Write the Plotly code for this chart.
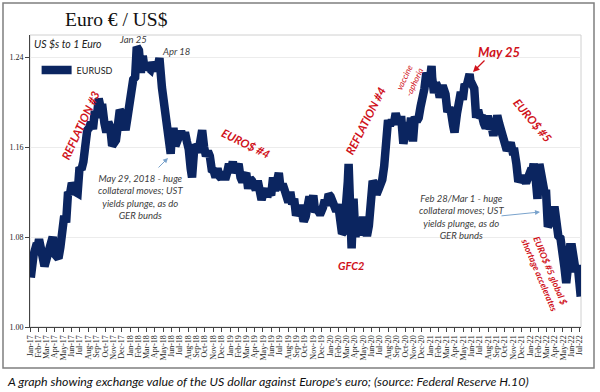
import plotly.graph_objects as go
import pandas as pd

# ---- data (EURUSD, US$ per 1 Euro) ----
d2017 = ["01-03","01-06","01-13","01-20","01-27","02-02","02-10","02-17","02-22","03-03","03-10","03-17","03-24","03-31",
         "04-07","04-14","04-21","04-28","05-05","05-12","05-19","05-26","06-02","06-09","06-16","06-23","06-30",
         "07-07","07-14","07-21","07-28","08-04","08-11","08-18","08-25","09-01","09-08","09-15","09-22","09-29",
         "10-06","10-13","10-20","10-27","11-03","11-10","11-17","11-24","12-01","12-08","12-15","12-22","12-29"]
v2017 = [1.044,1.055,1.064,1.070,1.069,1.078,1.064,1.061,1.054,1.062,1.067,1.074,1.080,1.065,
         1.064,1.061,1.071,1.089,1.099,1.093,1.120,1.118,1.128,1.120,1.120,1.119,1.142,
         1.140,1.147,1.166,1.175,1.177,1.182,1.176,1.192,1.186,1.203,1.195,1.195,1.181,
         1.173,1.182,1.178,1.161,1.166,1.166,1.179,1.193,1.190,1.177,1.175,1.186,1.201]
d2018 = ["01-05","01-12","01-19","01-25","02-02","02-09","02-16","02-23","03-02","03-09","03-16","03-23","03-30",
         "04-06","04-13","04-18","04-27","05-04","05-11","05-18","05-29","06-01","06-08","06-15","06-22","06-29",
         "07-06","07-13","07-20","07-27","08-03","08-10","08-15","08-24","08-31","09-07","09-14","09-21","09-28",
         "10-05","10-12","10-19","10-26","11-02","11-09","11-16","11-23","11-30","12-07","12-14","12-21","12-28"]
v2018 = [1.203,1.220,1.222,1.249,1.246,1.226,1.241,1.229,1.232,1.231,1.229,1.235,1.232,
         1.228,1.233,1.239,1.213,1.196,1.194,1.177,1.154,1.166,1.177,1.161,1.165,1.167,
         1.174,1.168,1.173,1.165,1.158,1.141,1.133,1.162,1.160,1.155,1.163,1.175,1.160,
         1.152,1.156,1.152,1.140,1.139,1.133,1.141,1.134,1.132,1.138,1.131,1.137,1.145]
d2019 = ["01-04","01-11","01-18","01-25","02-01","02-08","02-15","02-22","03-01","03-08","03-15","03-22","03-29",
         "04-05","04-12","04-19","04-26","05-03","05-10","05-17","05-24","05-31","06-07","06-14","06-21","06-28",
         "07-05","07-12","07-19","07-26","08-02","08-09","08-16","08-23","08-30","09-06","09-13","09-20","09-27",
         "10-04","10-11","10-18","10-25","11-01","11-08","11-15","11-22","11-29","12-06","12-13","12-20","12-27"]
v2019 = [1.139,1.147,1.137,1.141,1.145,1.133,1.129,1.134,1.137,1.123,1.132,1.130,1.122,
         1.122,1.130,1.124,1.113,1.119,1.123,1.116,1.120,1.117,1.133,1.121,1.137,1.137,
         1.122,1.127,1.122,1.113,1.111,1.120,1.109,1.114,1.099,1.103,1.108,1.102,1.094,
         1.098,1.104,1.116,1.108,1.117,1.102,1.105,1.102,1.102,1.106,1.113,1.108,1.118]
d2020 = ["01-03","01-10","01-17","01-24","01-31","02-07","02-14","02-21","02-28","03-06","03-09","03-13","03-20","03-27",
         "04-03","04-10","04-17","04-24","05-01","05-08","05-15","05-22","05-29","06-05","06-12","06-19","06-26",
         "07-03","07-10","07-17","07-24","07-31","08-07","08-14","08-21","08-28","09-04","09-11","09-18","09-25",
         "10-02","10-09","10-16","10-23","10-30","11-06","11-13","11-20","11-27","12-04","12-11","12-18","12-24"]
v2020 = [1.116,1.112,1.109,1.103,1.109,1.094,1.083,1.085,1.100,1.129,1.145,1.111,1.070,1.114,
         1.080,1.094,1.087,1.082,1.098,1.084,1.081,1.090,1.112,1.130,1.126,1.118,1.122,
         1.125,1.131,1.143,1.164,1.184,1.179,1.184,1.180,1.190,1.184,1.183,1.184,1.163,
         1.171,1.182,1.171,1.186,1.165,1.187,1.183,1.186,1.196,1.212,1.212,1.226,1.221]
d2021 = ["01-01","01-06","01-08","01-15","01-22","01-29","02-05","02-12","02-19","02-26","03-05","03-12","03-19","03-26","03-31",
         "04-09","04-16","04-23","04-30","05-07","05-14","05-21","05-25","05-28","06-04","06-11","06-18","06-25",
         "07-02","07-09","07-16","07-23","07-30","08-06","08-13","08-20","08-27","09-03","09-10","09-17","09-24",
         "10-01","10-08","10-15","10-22","10-29","11-05","11-12","11-19","11-26","12-03","12-10","12-17","12-24","12-31"]
v2021 = [1.222,1.232,1.222,1.208,1.217,1.213,1.204,1.212,1.212,1.207,1.191,1.195,1.190,1.179,1.173,
         1.190,1.197,1.209,1.202,1.216,1.214,1.219,1.225,1.219,1.216,1.212,1.186,1.193,
         1.186,1.188,1.181,1.177,1.188,1.176,1.179,1.170,1.180,1.188,1.181,1.173,1.172,
         1.160,1.157,1.160,1.164,1.156,1.156,1.145,1.129,1.132,1.131,1.132,1.128,1.133,1.137]
d2022 = ["01-07","01-14","01-21","01-28","02-04","02-11","02-18","02-24","02-28","03-07","03-11","03-18","03-25","03-31",
         "04-08","04-14","04-22","04-29","05-06","05-13","05-20","05-27","06-03","06-10","06-17","06-24","07-01","07-05"]
v2022 = [1.136,1.145,1.133,1.114,1.145,1.136,1.132,1.118,1.122,1.089,1.091,1.105,1.098,1.107,
         1.087,1.081,1.079,1.054,1.054,1.039,1.056,1.071,1.071,1.052,1.049,1.055,1.041,1.027]

years = [("2017", d2017, v2017), ("2018", d2018, v2018), ("2019", d2019, v2019),
         ("2020", d2020, v2020), ("2021", d2021, v2021), ("2022", d2022, v2022)]
dates, values = [], []
for yr, ds, vs in years:
    dates += [f"{yr}-{d}" for d in ds]
    values += vs

month_ticks = pd.date_range("2017-01-01", "2022-07-01", freq="MS")
month_labels = [t.strftime("%b-%y") for t in month_ticks]
y_ticks = [1.00, 1.08, 1.16, 1.24]

NAVY = "#0b2560"
RED = "#d0121b"
GRAY = "#404040"
CAL = "Lato, Open Sans, sans-serif"

fig = go.Figure()
fig.add_trace(go.Scatter(x=dates, y=values, mode="lines", name="EURUSD",
                         line=dict(color=NAVY, width=8.5, shape="linear")))

fig.update_layout(
    width=600, height=392,
    margin=dict(l=30, r=19, t=35, b=65),
    paper_bgcolor="white", plot_bgcolor="white",
    showlegend=True,
    legend=dict(x=0.012, y=0.88, xanchor="left", yanchor="middle",
                font=dict(family=CAL, size=9, color="#222"), bgcolor="rgba(0,0,0,0)",
                itemwidth=30),
    xaxis=dict(type="date", range=["2016-12-31", "2022-07-06"], automargin=False,
               tickvals=month_ticks, ticktext=month_labels, tickangle=-90,
               tickfont=dict(family="Liberation Serif", size=8, color="#222"),
               ticks="outside", ticklen=4, tickcolor="#444",
               showline=True, linecolor="#444", linewidth=1, showgrid=False,
               mirror=False),
    yaxis=dict(range=[1.0, 1.2596], tickvals=y_ticks, ticktext=["1.00", "1.08", "1.16", "1.24"],
               automargin=False,
               tickfont=dict(family="Liberation Serif", size=8, color="#222"),
               ticks="outside", ticklen=4, tickcolor="#444",
               showline=True, linecolor="#444", linewidth=1,
               showgrid=True, gridcolor="#ececec", gridwidth=1, zeroline=False),
)

# plot area border (top/right) and outer chart frame
fig.add_shape(type="rect", xref="paper", yref="paper", x0=0, y0=0, x1=1, y1=1,
              line=dict(color="#d0d0d0", width=1), layer="below")
fig.add_shape(type="rect", xref="paper", yref="paper",
              x0=-27/551, y0=-(368-327)/292, x1=(594-30)/551, y1=(292+35-3)/292,
              line=dict(color="#7f7f7f", width=1.5))

def ann(text, x, y, size, color, bold=False, italic=True, angle=0, family=CAL, align="center"):
    t = text
    if bold:
        t = f"<b>{t}</b>"
    if italic:
        t = f"<i>{t}</i>"
    fig.add_annotation(text=t, xref="paper", yref="paper",
                       x=(x - 30) / 551, y=(327 - y) / 292, xanchor="center", yanchor="middle",
                       showarrow=False, textangle=angle, align=align,
                       font=dict(family=family, size=size, color=color))

# title & caption
ann("Euro € / US$", 116, 19, 19.5, "#111", italic=False, family="Liberation Serif")
ann("US $s to 1 Euro", 68, 44, 10.5, "#222")
ann("A graph showing exchange value of the US dollar against Europe's euro; (source: Federal Reserve H.10)",
    268, 381, 12.4, "#111")

# annotations on plot
ann("Jan 25", 133, 40, 9.5, GRAY)
ann("Apr 18", 176, 51, 9.5, GRAY)
ann("REFLATION #3", 80, 125, 11.5, RED, bold=True, angle=-65)
ann("EURO$ #4", 246, 143, 11.5, RED, bold=True, angle=26)
ann("May 29, 2018 - huge<br>collateral moves; UST<br>yields plunge, as do<br>GER bunds", 140, 197, 9.5, GRAY)
ann("REFLATION #4", 366, 121, 11.5, RED, bold=True, angle=-63)
ann("vaccine<br>-aphoria", 410, 80, 8.5, RED, angle=-65)
ann("May 25", 499, 52, 13, RED, bold=True)
ann("EURO$ #5", 533, 120, 11.5, RED, bold=True, angle=50)
ann("GFC2", 351, 265, 11, RED, bold=True)
ann("Feb 28/Mar 1 - huge<br>collateral moves; UST<br>yields plunge, as do<br>GER bunds", 461, 217, 9.5, GRAY)
ann("EURO$ #5 global $<br>shortage accelerates", 545, 272, 9, RED, bold=True, angle=67)

def arrow(x0, y0, x1, y1, color, width=1):
    fig.add_annotation(xref="paper", yref="paper", axref="pixel", ayref="pixel",
                       x=(x1 - 30) / 551, y=(327 - y1) / 292,
                       ax=x0 - x1, ay=y0 - y1,
                       text="", showarrow=True, arrowhead=2, arrowsize=1, arrowwidth=width,
                       arrowcolor=color)

arrow(157, 169, 168, 158, "#7aa3cc")
arrow(500, 216, 540, 212, "#7aa3cc")
arrow(486, 59, 473, 72, RED, 1.3)

fig.write_html("out.html", config={"displayModeBar": False},
               post_script="document.body.style.margin='0';document.body.style.padding='0';")
